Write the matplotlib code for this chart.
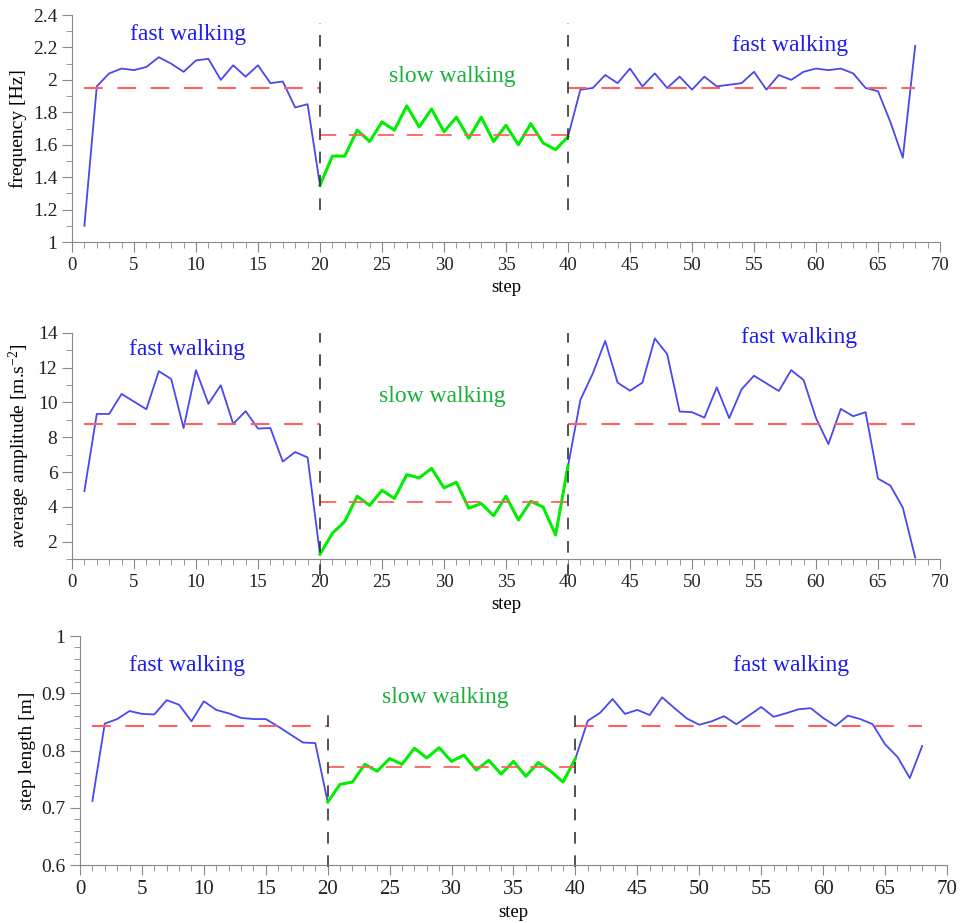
import numpy as np
import matplotlib
matplotlib.use("Agg")
import matplotlib.pyplot as plt
from matplotlib.ticker import MultipleLocator, FormatStrFormatter

plt.rcParams['font.family'] = ['Liberation Serif', 'DejaVu Serif']
plt.rcParams['mathtext.default'] = 'regular'

# step numbers 1..68
steps = np.arange(1, 69)

freq = [1.10, 1.96, 2.04, 2.07, 2.06, 2.08, 2.14, 2.10, 2.05, 2.12,
        2.13, 2.00, 2.09, 2.02, 2.09, 1.98, 1.99, 1.83, 1.85, 1.35,
        1.53, 1.53, 1.69, 1.62, 1.74, 1.69, 1.84, 1.71, 1.82, 1.68,
        1.77, 1.64, 1.77, 1.62, 1.72, 1.60, 1.73, 1.61, 1.57, 1.65,
        1.94, 1.95, 2.03, 1.98, 2.07, 1.96, 2.04, 1.95, 2.02, 1.94,
        2.02, 1.96, 1.97, 1.98, 2.05, 1.94, 2.03, 2.00, 2.05, 2.07,
        2.06, 2.07, 2.04, 1.95, 1.93, 1.74, 1.52, 2.21]

amp = [4.90, 9.34, 9.34, 10.49, 10.05, 9.61, 11.80, 11.35, 8.53, 11.86,
       9.92, 10.99, 8.77, 9.50, 8.50, 8.53, 6.60, 7.15, 6.84, 1.27,
       2.48, 3.16, 4.61, 4.08, 4.95, 4.48, 5.85, 5.66, 6.21, 5.09,
       5.41, 3.92, 4.19, 3.49, 4.61, 3.24, 4.32, 3.98, 2.38, 6.34,
       10.15, 11.67, 13.54, 11.14, 10.68, 11.14, 13.68, 12.78, 9.48, 9.44,
       9.13, 10.87, 9.10, 10.76, 11.54, 11.10, 10.66, 11.86, 11.29, 9.10,
       7.61, 9.63, 9.21, 9.44, 5.62, 5.22, 3.95, 1.08]

length = [0.712, 0.847, 0.855, 0.869, 0.864, 0.863, 0.888, 0.880, 0.851, 0.886,
          0.871, 0.865, 0.857, 0.855, 0.855, 0.842, 0.828, 0.814, 0.813, 0.710,
          0.741, 0.745, 0.776, 0.764, 0.786, 0.776, 0.804, 0.787, 0.805, 0.781,
          0.792, 0.766, 0.783, 0.759, 0.781, 0.755, 0.779, 0.764, 0.745, 0.786,
          0.852, 0.866, 0.890, 0.864, 0.871, 0.862, 0.893, 0.874, 0.856, 0.845,
          0.851, 0.860, 0.846, 0.861, 0.876, 0.859, 0.865, 0.872, 0.874, 0.857,
          0.843, 0.861, 0.855, 0.846, 0.811, 0.789, 0.752, 0.808]

# mean levels (fast, slow)
freq_mean = (1.95, 1.66)
amp_mean = (8.77, 4.27)
length_mean = (0.842, 0.771)

BLUE = '#4848f0'
GREEN = '#00ee00'
RED = '#ff6060'
TXT_BLUE = '#1c1cf0'
TXT_GREEN = '#19b03a'


def panel(rect, y, means, ylim, ymaj, ymin, fmt, ylabel, texts, vspan, xfs=13.5):
    ax = fig.add_axes(rect)
    y = np.array(y)
    a, b = 20, 40
    ax.plot(steps[:a], y[:a], color=BLUE, lw=1.3)
    ax.plot(steps[b - 1:], y[b - 1:], color=BLUE, lw=1.3)
    ax.plot(steps[a - 1:b], y[a - 1:b], color=GREEN, lw=2.2)
    ax.plot([1, 20], [means[0]] * 2, color=RED, lw=1.5, dashes=(9, 7))
    ax.plot([40, 68], [means[0]] * 2, color=RED, lw=1.5, dashes=(9, 7))
    ax.plot([20, 40], [means[1]] * 2, color=RED, lw=1.3, dashes=(9, 7))
    for xv in (20, 40):
        ax.plot([xv, xv], vspan, color='#333333', lw=1.2, dashes=(7, 7),
                clip_on=False)
    ax.set_xlim(0, 70)
    ax.set_ylim(*ylim)
    ax.xaxis.set_major_locator(MultipleLocator(5))
    ax.xaxis.set_minor_locator(MultipleLocator(1))
    ax.yaxis.set_major_locator(MultipleLocator(ymaj))
    ax.yaxis.set_minor_locator(MultipleLocator(ymin))
    ax.yaxis.set_major_formatter(FormatStrFormatter(fmt))
    for s in ('top', 'right'):
        ax.spines[s].set_visible(False)
    for s in ('left', 'bottom'):
        ax.spines[s].set_color('#888888')
    ax.tick_params(which='major', length=7, color='#888888')
    ax.tick_params(which='minor', length=4, color='#888888')
    ax.tick_params(axis='y', labelsize=14, colors='#888888', labelcolor='#222222')
    ax.tick_params(axis='x', labelsize=xfs, colors='#888888', labelcolor='#222222')
    ax.set_xlabel('step', fontsize=13.5, labelpad=4)
    ax.set_ylabel(ylabel, fontsize=14, labelpad=4)
    for tx, ty, s, c in texts:
        ax.text(tx, ty, s, color=c, fontsize=17, ha='center', va='center')
    return ax


fig = plt.figure(figsize=(9.65, 9.23), dpi=100)

panel([0.0746, 0.7378, 0.8995, 0.2459], freq, freq_mean, (1, 2.4), 0.2, 0.1,
      '%g', 'frequency [Hz]',
      [(9.35, 2.28, 'fast walking', TXT_BLUE),
       (30.7, 2.02, 'slow walking', TXT_GREEN),
       (57.9, 2.21, 'fast walking', TXT_BLUE)],
      (1.2, 2.35))

panel([0.0746, 0.3944, 0.8995, 0.2449], amp, amp_mean, (1, 14), 2, 1,
      '%g', 'average amplitude [m.s$^{-2}$]',
      [(9.3, 13.06, 'fast walking', TXT_BLUE),
       (29.9, 10.32, 'slow walking', TXT_GREEN),
       (58.6, 13.75, 'fast walking', TXT_BLUE)],
      (0.0, 14.0))

panel([0.0829, 0.0628, 0.8984, 0.2481], length, length_mean, (0.6, 1.0), 0.1, 0.02,
      '%g', 'step length [m]',
      [(8.64, 0.949, 'fast walking', TXT_BLUE),
       (29.5, 0.893, 'slow walking', TXT_GREEN),
       (57.4, 0.949, 'fast walking', TXT_BLUE)],
      (0.597, 0.877), xfs=15)

fig.savefig('out.png', dpi=100)
